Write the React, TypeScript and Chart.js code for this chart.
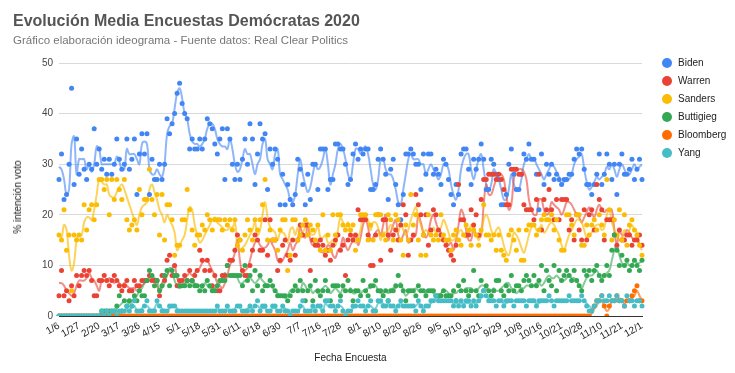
import React, { useEffect, useRef } from 'react';
import { Chart, registerables } from 'chart.js';

Chart.register(...registerables);

const TICK_LABELS = ['1/6', '1/27', '2/20', '3/17', '3/26', '4/15', '5/1', '5/18', '5/31', '6/11', '6/18', '6/30', '7/7', '7/16', '7/28', '8/1', '8/10', '8/20', '8/26', '9/5', '9/10', '9/21', '9/29', '10/8', '10/16', '10/21', '10/28', '11/10', '11/21', '12/1'];
const POLLS_PER_TICK = 8;

const SERIES_NAMES = ['Biden', 'Warren', 'Sanders', 'Buttigieg', 'Bloomberg', 'Yang'];
const SERIES_COLORS = ['#4285F4', '#EA4335', '#FBBC04', '#34A853', '#FF6D01', '#46BDC6'];
const LINE_COLORS = ['rgba(66,133,244,0.6)', 'rgba(234,67,53,0.6)', 'rgba(251,188,4,0.65)', 'rgba(52,168,83,0.6)', 'rgba(255,109,1,0.65)', 'rgba(70,189,198,0.7)'];

// Poll values (dots)
const BIDEN_DOTS = [
  27, 32, 23, 24, 30, 45, 26, 35,
  28, 33, 29, 27, 30, 29, 37, 30,
  33, 29, 31, 28, 31, 28, 30, 35,
  31, 29, 30, 35, 29, 31, 35, 24,
  32, 36, 32, 36, 24, 31, 27, 27,
  30, 27, 30, 39, 36, 38, 40, 44,
  46, 42, 40, 39, 33, 35, 33, 33,
  35, 33, 35, 39, 38, 37, 34, 32,
  35, 37, 27, 37, 35, 30, 27, 30,
  27, 31, 35, 30, 38, 35, 26, 32,
  38, 35, 36, 25, 33, 30, 33, 31,
  22, 28, 22, 26, 23, 22, 24, 31,
  29, 26, 22, 28, 23, 30, 30, 25,
  33, 33, 33, 25, 27, 27, 34, 34,
  33, 33, 30, 26, 27, 32, 34, 31,
  33, 32, 33, 33, 25, 25, 26, 31,
  33, 31, 28, 23, 29, 31, 26, 22,
  19, 24, 32, 32, 33, 32, 30, 30,
  25, 32, 28, 32, 32, 28, 29, 28,
  26, 31, 30, 27, 24, 22, 26, 24,
  32, 33, 33, 29, 26, 31, 29, 31,
  34, 31, 25, 25, 31, 30, 28, 27,
  22, 22, 24, 30, 33, 28, 25, 25,
  28, 32, 31, 34, 31, 31, 28, 21,
  32, 26, 30, 28, 30, 27, 28, 27,
  26, 27, 27, 28, 28, 31, 33, 32,
  33, 29, 26, 26, 24, 26, 28, 32,
  26, 28, 32, 30, 27, 30, 24, 30,
  32, 28, 28, 29, 31, 27, 29, 31,
  27,
];
const WARREN_DOTS = [
  4, 9, 4, 5, 3, 6, 4, 8,
  6, 8, 9, 8, 9, 7, 4, 4,
  7, 7, 8, 7, 6, 7, 8, 7,
  6, 5, 6, 7, 5, 5, 7, 6,
  6, 7, 7, 7, 8, 7, 7, 7,
  4, 8, 7, 11, 12, 8, 10, 6,
  7, 7, 8, 7, 9, 7, 8, 9,
  13, 11, 9, 11, 9, 6, 8, 5,
  5, 8, 8, 10, 11, 11, 13, 16,
  15, 9, 8, 8, 10, 13, 16, 15,
  13, 13, 19, 12, 19, 15, 15, 9,
  11, 14, 15, 12, 11, 15, 12, 15,
  18, 16, 18, 18, 9, 15, 14, 14,
  15, 14, 12, 13, 11, 14, 15, 16,
  13, 14, 8, 15, 16, 15, 16, 21,
  19, 19, 19, 16, 10, 10, 16, 20,
  11, 19, 19, 16, 13, 16, 17, 15,
  18, 22, 20, 12, 15, 16, 24, 22,
  20, 16, 20, 14, 17, 21, 20, 17,
  16, 15, 14, 13, 12, 11, 14, 26,
  19, 19, 16, 16, 21, 18, 20, 16,
  23, 27, 27, 28, 28, 28, 27, 28,
  27, 25, 22, 22, 29, 29, 29, 28,
  28, 22, 21, 21, 21, 19, 23, 28,
  17, 23, 21, 25, 21, 19, 23, 19,
  23, 23, 23, 17, 19, 15, 20, 17,
  15, 21, 15, 20, 21, 17, 26, 23,
  21, 15, 19, 19, 19, 16, 14, 17,
  15, 15, 16, 16, 14, 15, 15, 16,
  14,
];
const SANDERS_DOTS = [
  16, 15, 21, 13, 16, 5, 16, 15,
  16, 15, 22, 17, 21, 22, 19, 22,
  27, 27, 25, 27, 20, 27, 23, 27,
  25, 23, 27, 19, 17, 18, 19, 17,
  25, 20, 23, 23, 29, 23, 20, 24,
  16, 24, 15, 22, 22, 19, 12, 14,
  14, 19, 19, 25, 21, 17, 14, 16,
  16, 18, 17, 20, 19, 17, 19, 19,
  19, 17, 19, 18, 19, 17, 19, 14,
  15, 13, 16, 19, 17, 15, 19, 17,
  19, 22, 27, 15, 17, 15, 15, 13,
  17, 19, 19, 9, 12, 19, 19, 15,
  16, 18, 19, 16, 18, 17, 15, 18,
  13, 20, 13, 16, 13, 20, 16, 20,
  20, 18, 17, 18, 17, 18, 13, 15,
  20, 20, 20, 15, 18, 15, 20, 20,
  20, 16, 15, 20, 19, 15, 20, 19,
  15, 12, 18, 15, 24, 18, 20, 15,
  12, 16, 12, 20, 16, 15, 16, 15,
  20, 16, 15, 15, 13, 16, 17, 15,
  14, 16, 18, 17, 14, 17, 16, 14,
  17, 22, 16, 16, 15, 16, 13, 16,
  13, 12, 11, 16, 17, 15, 13, 17,
  11, 11, 17, 18, 18, 18, 16, 17,
  19, 20, 19, 19, 20, 17, 19, 15,
  13, 13, 20, 20, 18, 16, 20, 20,
  14, 14, 18, 16, 18, 19, 17, 20,
  18, 16, 27, 21, 15, 19, 16, 21,
  15, 20, 14, 18, 19, 17, 16, 14,
  12,
];
const BUTTIGIEG_DOTS = [
  0, 0, 0, 0, 0, 0, 0, 0,
  0, 0, 0, 0, 0, 0, 0, 0,
  0, 1, 1, 1, 1, 1, 1, 2,
  4, 1, 3, 2, 3, 2, 4, 3,
  5, 4, 4, 7, 9, 8, 6, 7,
  5, 6, 8, 9, 6, 9, 8, 8,
  6, 6, 6, 7, 6, 7, 6, 6,
  5, 6, 5, 7, 6, 5, 5, 6,
  7, 7, 7, 10, 8, 8, 8, 8,
  8, 6, 10, 7, 8, 5, 9, 6,
  8, 5, 6, 6, 7, 6, 5, 4,
  4, 4, 4, 3, 4, 5, 6, 5,
  7, 5, 3, 5, 6, 3, 7, 5,
  4, 5, 7, 5, 3, 6, 6, 6,
  4, 6, 5, 7, 5, 3, 5, 5,
  4, 7, 5, 4, 6, 6, 7, 5,
  5, 4, 5, 3, 5, 5, 6, 8,
  6, 5, 3, 5, 5, 5, 4, 6,
  5, 5, 4, 5, 5, 5, 4, 4,
  4, 5, 4, 4, 4, 5, 3, 6,
  5, 7, 5, 4, 5, 9, 5, 4,
  7, 5, 6, 5, 4, 5, 7, 7,
  5, 4, 6, 5, 8, 5, 6, 6,
  5, 7, 8, 7, 6, 8, 6, 7,
  10, 5, 9, 7, 6, 10, 5, 9,
  7, 8, 9, 8, 7, 9, 7, 6,
  5, 9, 8, 9, 7, 9, 10, 8,
  7, 8, 10, 8, 13, 16, 13, 10,
  12, 10, 11, 9, 10, 11, 10, 9,
  11,
];
const BLOOMBERG_DOTS = [
  0, 0, 0, 0, 0, 0, 0, 0, 0, 0, 0, 0, 0, 0, 0, 0,
  0, 0, 0, 0, 0, 0, 0, 0, 0, 0, 0, 0, 0, 0, 0, 0,
  0, 0, 0, 0, 0, 0, 0, 0, 0, 0, 0, 0, 0, 0, 0, 0,
  0, 0, 0, 0, 0, 0, 0, 0, 0, 0, 0, 0, 0, 0, 0, 0,
  0, 0, 0, 0, 0, 0, 0, 0, 0, 0, 0, 0, 0, 0, 0, 0,
  0, 0, 0, 0, 0, 0, 0, 0, 0, 0, 0, 0, 0, 0, 0, 0,
  0, 0, 0, 0, 0, 0, 0, 0, 0, 0, 0, 0, 0, 0, 0, 0,
  0, 0, 0, 0, 0, 0, 0, 0, 0, 0, 0, 0, 0, 0, 0, 0,
  0, 0, 0, 0, 0, 0, 0, 0, 0, 0, 0, 0, 0, 0, 0, 0,
  0, 0, 0, 0, 0, 0, 0, 0, 0, 0, 0, 0, 0, 0, 0, 0,
  0, 0, 0, 0, 0, 0, 0, 0, 0, 0, 0, 0, 0, 0, 0, 0,
  0, 0, 0, 0, 0, 0, 0, 0, 0, 0, 0, 0, 0, 0, 0, 0,
  0, 0, 0, 0, 0, 0, 0, 0, 0, 0, 0, 0, 0, 0, 0, 0,
  0, 0, 0, 0, 1, 2, 3, 3,
  4, 2, 0, 2, 3, 3, 4, 3,
  3, 2, 3, 3, 4, 5, 6, 3,
  3,
];
const YANG_DOTS = [
  0, 0, 0, 0, 0, 0, 0, 0,
  0, 0, 0, 0, 0, 0, 0, 0,
  0, 1, 0, 1, 0, 1, 1, 0,
  1, 1, 1, 2, 1, 2, 3, 1,
  1, 1, 2, 3, 1, 1, 1, 3,
  2, 1, 1, 1, 2, 2, 2, 1,
  1, 1, 1, 1, 1, 1, 1, 1,
  1, 1, 1, 1, 1, 1, 1, 2,
  1, 1, 1, 2, 1, 1, 1, 2,
  2, 1, 1, 1, 2, 1, 2, 3,
  1, 2, 2, 1, 1, 2, 2, 1,
  1, 2, 1, 1, 0, 1, 1, 1,
  2, 3, 1, 1, 1, 2, 1, 2,
  2, 1, 3, 3, 2, 2, 1, 2,
  3, 1, 0, 1, 1, 2, 2, 3,
  2, 2, 1, 2, 3, 1, 1, 3,
  3, 2, 2, 3, 2, 2, 1, 2,
  3, 2, 2, 2, 2, 2, 1, 3,
  2, 1, 2, 2, 3, 3, 4, 3,
  3, 3, 3, 3, 3, 2, 3, 2,
  3, 2, 3, 3, 2, 3, 2, 3,
  4, 5, 4, 3, 3, 3, 2, 3,
  3, 2, 3, 3, 3, 2, 3, 3,
  3, 3, 2, 3, 3, 3, 2, 3,
  3, 3, 3, 4, 3, 2, 3, 3,
  3, 3, 3, 4, 3, 3, 3, 3,
  4, 3, 2, 1, 1, 2, 3, 3,
  4, 3, 3, 4, 3, 3, 4, 3,
  3, 2, 4, 3, 3, 2, 3, 3,
  2,
];

// Poll averages (lines)
const BIDEN_AVG = [
  29.5, 29, 27, 24, 25, 34, 35.5, 28,
  31, 31, 31, 29, 30, 28.5, 30, 33.5,
  33, 30, 30, 30, 30, 30, 30, 31.5,
  30.5, 29, 29, 33, 32, 32, 32, 31,
  30, 34, 34.5, 34, 29, 28, 28, 29,
  28, 27.5, 30, 36, 37.5, 38, 41, 44,
  45, 43, 40, 39, 36, 34.5, 34, 34,
  33.5, 34, 35, 37, 38, 38, 37, 35,
  34, 33.5, 33.5, 33, 35, 33, 30, 28.5,
  29, 31, 33, 32, 32, 30, 28, 30,
  31, 34, 35, 31, 30, 29, 32, 33,
  28, 27, 26, 25, 23, 22.5, 24, 28,
  31, 28, 26, 24.5, 25.5, 28, 30, 29,
  29.5, 31, 33, 30, 26, 28, 30, 33,
  34, 33, 31, 28, 27, 30, 33, 33,
  32, 33, 33.5, 32, 29, 26, 25, 27,
  31, 31, 29, 28, 28, 27, 25, 22.5,
  22, 25, 28, 31, 32, 31, 31, 31,
  30, 30, 28, 29, 30, 29, 28, 27,
  28, 30, 30, 29, 26, 24, 23, 25,
  29, 31, 32, 32, 29, 27, 29, 31,
  32, 29, 26, 25, 26, 29, 28, 27,
  25, 23, 23, 25, 28, 26, 25, 25,
  27, 30, 31, 32, 31, 31, 30, 29,
  28, 27, 28, 29, 30, 29.5, 28.5, 27.5,
  26, 26.5, 27, 27, 28, 30, 31, 31.5,
  32, 29, 26.5, 25, 25.5, 26.5, 27.5, 27,
  27.5, 28, 29.5, 29, 30, 29, 27.5, 29,
  30, 29, 28, 28, 29, 30, 29, 29.5,
  30,
];
const WARREN_AVG = [
  6.5, 6.5, 6, 5, 4.5, 4, 4.5, 6,
  7, 7, 7, 7.5, 8.5, 7.5, 7, 6,
  5, 7, 7, 7, 7.5, 7, 6.5, 7,
  6.5, 6, 6.5, 6, 5.5, 5.5, 5.5, 5,
  5.5, 6, 6.5, 7, 7, 7, 7, 6,
  5, 6.5, 7.5, 8, 9, 9.5, 10, 7.5,
  6.5, 7, 7.5, 8, 8.5, 8, 8.5, 9,
  9.5, 10.5, 11, 11, 10, 9, 8, 6.5,
  6, 5.5, 6.5, 8, 10, 11, 12.5, 15,
  11, 8.5, 9, 9.5, 11, 13, 14.5, 15,
  14, 13.5, 13.5, 14, 15, 14, 13, 11,
  10.5, 11, 12, 13, 14.5, 13, 14, 15,
  17.5, 16, 15.5, 18, 15, 14, 15, 14.5,
  13, 12.5, 13, 14, 13.5, 12, 11.5, 13,
  13.5, 15.5, 14, 13, 14, 15, 16, 14,
  15.5, 18, 19, 17.5, 15, 15.5, 16.5, 17,
  16, 18, 20, 15, 16.5, 18, 19, 16,
  15, 16, 17, 14.5, 15, 15.5, 16, 20,
  18.5, 16.5, 15.5, 16.5, 19, 20, 18.5, 17,
  16.5, 15.5, 15, 14, 14.5, 13, 15, 18,
  21, 20, 17, 15, 15, 17.5, 16, 15.5,
  16, 22, 26, 24, 24, 25.5, 27, 28,
  28, 27, 24, 21, 22, 27, 29, 29,
  29, 28.5, 27, 23, 21, 20, 20, 23,
  23, 21, 20, 20.5, 22.5, 22, 21.5, 21,
  20, 21, 22.5, 22.5, 22, 21, 20, 19.5,
  18.5, 19.5, 20.5, 21.5, 20.5, 19.5, 21, 22,
  21, 20.5, 21, 21, 21, 17, 14, 17,
  16, 16, 17, 16.5, 15.5, 15, 15.5, 14,
  14,
];
const SANDERS_AVG = [
  16, 15.5, 18, 17, 12, 9, 10.5, 15,
  16, 16, 18.5, 19.5, 19.5, 19, 21, 24,
  27, 26.5, 26, 26, 24, 23.5, 23.5, 24.5,
  25.5, 26, 25, 23.5, 22, 20.5, 19, 18,
  20, 21.5, 22, 22.5, 25, 26, 24.5, 23,
  21, 20, 18.5, 20, 19, 18, 16.5, 13,
  14, 15, 16, 19, 21.5, 21, 18, 16,
  14.5, 15, 16, 17, 18, 19, 19.5, 18.5,
  18, 17.5, 17, 17, 17.5, 17.5, 18.5, 14,
  13, 13.5, 14, 15, 16, 17, 18.5, 16,
  17, 20, 22.5, 19.5, 17.5, 17, 16.5, 15,
  16.5, 16.5, 16, 14.5, 17, 17.5, 16, 17.5,
  15.5, 16.5, 17.5, 18.5, 16.5, 16, 16.5, 18,
  15.5, 15.5, 16, 14.5, 14.5, 15, 14, 17,
  19.5, 18.5, 17.5, 18.5, 16.5, 15, 14.5, 15.5,
  17, 19.5, 19.5, 19, 17, 18.5, 18.5, 17.5,
  15, 16.5, 16.5, 17, 18, 17.5, 17, 16.5,
  18.5, 17, 16, 17, 19, 20.5, 21.5, 19.5,
  18, 16.5, 17, 16.5, 16, 17.5, 16.5, 17,
  17.5, 19, 18, 16.5, 15, 15, 15.5, 16.5,
  17, 16, 15.5, 16, 18, 16.5, 16, 15,
  16.5, 19, 20, 19, 17, 16, 17, 17.5,
  16, 14, 12.5, 12, 14, 16.5, 16, 15,
  13.5, 12.5, 14, 16, 17.5, 18, 17, 17,
  18, 16.5, 17, 18, 18.5, 18, 17, 16,
  14, 13, 14.5, 16, 17, 18, 19, 19,
  18.5, 17, 15.5, 16, 16.5, 17.5, 18, 18,
  17, 17.5, 20, 21, 18.5, 17, 15.5, 15,
  15.5, 17, 16, 17, 18, 17, 16.5, 14,
  13,
];
const BUTTIGIEG_AVG = [
  0, 0, 0, 0, 0, 0, 0, 0,
  0, 0, 0, 0, 0, 0, 0, 0,
  0, 1, 1, 1, 1, 1, 1, 1.5,
  2, 2.5, 3, 3, 2.5, 3, 3.5, 4,
  5, 5.5, 6.5, 7, 7.5, 8, 7.5, 7,
  5, 5.5, 6.5, 8, 9.5, 9, 7, 6,
  5.5, 6, 6.5, 6.5, 7, 6.5, 6.5, 6,
  6, 5.5, 6.5, 6, 5.5, 5.5, 5.5, 6,
  6.5, 7.5, 8.5, 8, 8, 8, 8, 7.5,
  6.5, 6.5, 7, 7, 7.5, 7, 6.5, 7,
  7.5, 7, 6.5, 6, 6, 5.5, 5, 4.5,
  4, 4, 3.5, 4, 5, 5, 5.5, 5.5,
  5, 6.5, 6, 5, 5.5, 4.5, 5, 4.5,
  5, 5.5, 6, 5.5, 4.5, 5, 5.5, 5,
  4.5, 5.5, 5, 5, 5.5, 4.5, 4.5, 5,
  4.5, 5, 5, 5.5, 5.5, 6, 6, 5,
  4.5, 4.5, 5, 4.5, 5, 5.5, 5.5, 6,
  6.5, 5, 4, 4.5, 5, 5, 5.5, 5,
  5, 5, 4.5, 5, 5, 4.5, 4, 4,
  4.5, 5, 5, 4.5, 4, 4.5, 4.5, 5,
  5, 5, 5.5, 5.5, 5.5, 5, 5, 5.5,
  6, 6, 5.5, 5, 5, 5.5, 5, 5,
  5.5, 6, 6.5, 6.5, 5.5, 5, 4.5, 5,
  5.5, 5.5, 6, 6, 6, 6, 6.5, 6.5,
  6, 6.5, 7.5, 8, 7.5, 7.5, 8, 7.5,
  7, 7, 7.5, 8, 7.5, 7.5, 7, 6,
  5.5, 6.5, 7.5, 8, 8, 8.5, 9, 8,
  7.5, 8, 8.5, 9, 11, 13, 14, 12,
  10.5, 10, 10.5, 10, 10, 11, 10.5, 10.5,
  11,
];
const BLOOMBERG_AVG = [
  0, 0, 0, 0, 0, 0, 0, 0, 0, 0, 0, 0, 0, 0, 0, 0,
  0, 0, 0, 0, 0, 0, 0, 0, 0, 0, 0, 0, 0, 0, 0, 0,
  0, 0, 0, 0, 0, 0, 0, 0, 0, 0, 0, 0, 0, 0, 0, 0,
  0, 0, 0, 0, 0, 0, 0, 0, 0, 0, 0, 0, 0, 0, 0, 0,
  0, 0, 0, 0, 0, 0, 0, 0, 0, 0, 0, 0, 0, 0, 0, 0,
  0, 0, 0, 0, 0, 0, 0, 0, 0, 0, 0, 0, 0, 0, 0, 0,
  0, 0, 0, 0, 0, 0, 0, 0, 0, 0, 0, 0, 0, 0, 0, 0,
  0, 0, 0, 0, 0, 0, 0, 0, 0, 0, 0, 0, 0, 0, 0, 0,
  0, 0, 0, 0, 0, 0, 0, 0, 0, 0, 0, 0, 0, 0, 0, 0,
  0, 0, 0, 0, 0, 0, 0, 0, 0, 0, 0, 0, 0, 0, 0, 0,
  0, 0, 0, 0, 0, 0, 0, 0, 0, 0, 0, 0, 0, 0, 0, 0,
  0, 0, 0, 0, 0, 0, 0, 0, 0, 0, 0, 0, 0, 0, 0, 0,
  0, 0, 0, 0, 0, 0, 0, 0, 0, 0, 0, 0, 0, 0, 0, 0,
  0, 0, 0, 0, 0.5, 1.5, 2.5, 3,
  3, 2, 1, 1.5, 3, 3, 3, 3.5,
  3, 2.5, 3, 3, 3.5, 4, 5, 4,
  3,
];
const YANG_AVG = [
  0, 0, 0, 0, 0, 0, 0, 0,
  0, 0, 0, 0, 0, 0, 0, 0,
  0, 0.5, 0.5, 0.5, 0.5, 0.5, 0.5, 0.5,
  0.5, 1, 1, 1.5, 1, 2, 2, 1,
  1, 1.5, 2, 2, 1.5, 1, 1.5, 2.5,
  2, 1.5, 1, 1, 1.5, 2, 2, 1.5,
  1, 1, 1, 1, 1, 1, 1, 1,
  1, 1, 1, 1, 1, 1, 1, 1.5,
  1, 1, 1, 1.5, 1, 1, 1.5, 2,
  1.5, 1, 1, 1.5, 1.5, 1.5, 2, 2,
  1.5, 1.5, 1.5, 1, 1, 1.5, 1.5, 1,
  1, 1.5, 1.5, 1, 0.5, 1, 1, 1,
  1.5, 2, 1, 1, 1, 1.5, 1.5, 2,
  1.5, 1, 2.5, 2, 2, 2, 1.5, 2,
  2, 1.5, 0.5, 1, 1, 1.5, 2, 2,
  2, 2, 1.5, 2, 2, 1.5, 1.5, 2.5,
  2.5, 2.5, 2, 2.5, 2, 2, 1.5, 2,
  2.5, 2, 2, 2, 2, 2, 2, 2.5,
  2, 1.5, 2, 2, 2.5, 3, 3.5, 3.5,
  3, 3, 3, 3, 3, 2.5, 2.5, 2.5,
  2.5, 2.5, 2.5, 2.5, 2.5, 2.5, 2.5, 3,
  3.5, 4, 4, 3.5, 3, 3, 3, 3,
  3, 2.5, 2.5, 3, 3, 3, 3, 3,
  3, 3, 3, 3, 3, 3, 2.5, 2.5,
  3, 3, 3, 3, 3, 3, 3, 3,
  3, 3, 3, 3, 3, 3, 3, 3,
  3, 3, 2.5, 2, 1.5, 1.5, 2, 3,
  3, 3, 3, 3, 3, 3, 3.5, 3,
  3, 3, 3, 3, 3, 3, 3, 3,
  3,
];

const DOTS = [BIDEN_DOTS, WARREN_DOTS, SANDERS_DOTS, BUTTIGIEG_DOTS, BLOOMBERG_DOTS, YANG_DOTS];
const AVGS = [BIDEN_AVG, WARREN_AVG, SANDERS_AVG, BUTTIGIEG_AVG, BLOOMBERG_AVG, YANG_AVG];

const CATEGORIES = BIDEN_DOTS.map((_, i) => (i % POLLS_PER_TICK === 0 ? TICK_LABELS[i / POLLS_PER_TICK] || '' : ''));

const FONT = '"Liberation Sans", Arial, sans-serif';

export default function App() {
  const canvasRef = useRef<HTMLCanvasElement | null>(null);

  useEffect(() => {
    const canvas = canvasRef.current;
    if (!canvas) return;
    const datasets: any[] = [];
    SERIES_NAMES.forEach((name, s) => {
      datasets.push({
        label: name + ' media',
        data: AVGS[s],
        borderColor: LINE_COLORS[s],
        backgroundColor: LINE_COLORS[s],
        borderWidth: 2,
        pointRadius: 0,
        pointHoverRadius: 0,
        tension: 0.4,
        fill: false,
        order: 20 - s,
      });
    });
    SERIES_NAMES.forEach((name, s) => {
      datasets.push({
        label: name,
        data: DOTS[s],
        showLine: false,
        pointRadius: 2.5,
        pointBorderWidth: 0,
        pointBackgroundColor: SERIES_COLORS[s],
        borderColor: SERIES_COLORS[s],
        backgroundColor: SERIES_COLORS[s],
        order: 10 - s,
      });
    });

    const chart = new Chart(canvas, {
      type: 'line',
      data: { labels: CATEGORIES, datasets },
      options: {
        responsive: false,
        animation: false,
        devicePixelRatio: 1,
        layout: { padding: { top: 63, right: 93, left: 0, bottom: 0 } },
        plugins: {
          legend: { display: false },
          tooltip: { enabled: false },
          title: { display: false },
        },
        scales: {
          x: {
            type: 'category',
            offset: false,
            grid: { display: false, drawTicks: false },
            border: { display: true, color: '#333333', width: 1 },
            ticks: {
              autoSkip: false,
              maxRotation: 30,
              minRotation: 30,
              padding: 4,
              color: '#222222',
              font: { family: FONT, size: 10 },
            },
            title: {
              display: true,
              text: 'Fecha Encuesta',
              color: '#222222',
              font: { family: FONT, size: 10 },
              padding: { top: 0, bottom: 9 },
            },
            afterFit: (scale: any) => {
              scale.height = 57;
            },
          },
          y: {
            min: 0,
            max: 50,
            ticks: {
              stepSize: 10,
              padding: 6,
              color: '#444444',
              font: { family: FONT, size: 10 },
            },
            grid: {
              drawTicks: false,
              color: (ctx: any) => (ctx.tick && ctx.tick.value === 0 ? '#333333' : '#d9d9d9'),
            },
            border: { display: false },
            afterFit: (scale: any) => {
              scale.width = 59;
            },
          },
        },
      } as any,
    });
    return () => chart.destroy();
  }, []);

  return (
    <div style={{ position: 'fixed', left: 0, top: 0, width: 735, height: 373, background: '#ffffff', fontFamily: FONT }}>
      <canvas ref={canvasRef} width={735} height={373} style={{ position: 'absolute', left: 0, top: 0, width: 735, height: 373 }} />
      <div style={{ position: 'absolute', left: 13, top: 12.5, fontSize: 16, lineHeight: '16px', fontWeight: 'bold', color: '#555555', whiteSpace: 'nowrap' }}>
        Evolución Media Encuestas Demócratas 2020
      </div>
      <div style={{ position: 'absolute', left: 13, top: 35.3, fontSize: 11.5, lineHeight: '11.5px', color: '#777777', whiteSpace: 'nowrap' }}>
        Gráfico elaboración ideograma - Fuente datos: Real Clear Politics
      </div>
      <div style={{ position: 'absolute', left: 18, top: 197, transform: 'translate(-50%, -50%) rotate(-90deg)', fontSize: 10, lineHeight: '12px', color: '#222222', whiteSpace: 'nowrap' }}>
        % intención voto
      </div>
      {SERIES_NAMES.map((name, s) => (
        <div key={name} style={{ position: 'absolute', left: 662, top: 54 + 18 * s, height: 18, display: 'flex', alignItems: 'center', whiteSpace: 'nowrap' }}>
          <span style={{ display: 'inline-block', width: 10, height: 10, borderRadius: 5, background: SERIES_COLORS[s] }} />
          <span style={{ marginLeft: 6, fontSize: 10, lineHeight: '10px', color: '#222222' }}>{name}</span>
        </div>
      ))}
    </div>
  );
}
